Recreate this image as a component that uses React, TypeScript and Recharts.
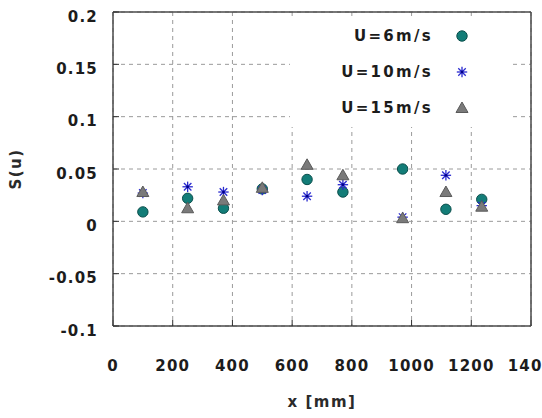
import { ScatterChart, Scatter, XAxis, YAxis, CartesianGrid, Label } from 'recharts';

// x positions of the measuring stations [mm]
const stations = [100, 250, 370, 500, 650, 770, 970, 1115, 1235];
// skewness S(u) per free-stream velocity
const u6 = [0.009, 0.022, 0.0125, 0.031, 0.040, 0.028, 0.050, 0.0115, 0.021];
const u10 = [0.027, 0.033, 0.028, 0.030, 0.024, 0.035, 0.004, 0.044, 0.015];
const u15 = [0.028, 0.0125, 0.020, 0.032, 0.054, 0.044, 0.003, 0.028, 0.014];

const seriesNames = ['U=6m/s', 'U=10m/s', 'U=15m/s'];
const xTicks = [0, 200, 400, 600, 800, 1000, 1200, 1400];
const yTicks = [-0.1, -0.05, 0, 0.05, 0.1, 0.15, 0.2];

const toPoints = (vals: number[]) => stations.map((x, i) => ({ x, y: vals[i] }));
const data6 = toPoints(u6);
const data10 = toPoints(u10);
const data15 = toPoints(u15);

const FONT = '"DejaVu Sans", Verdana, sans-serif';
const tickStyle = { fontFamily: FONT, fontSize: 15, fontWeight: 'bold' as const, fill: '#1c1c1c', letterSpacing: 1.2 };

const Dot = ({ cx, cy }: any) => <circle cx={cx} cy={cy} r={5.2} fill="#137d78" stroke="#0b4f4c" strokeWidth={1} />;

const Star = ({ cx, cy }: any) => {
  const r = 5.2;
  const d = r * 0.72;
  return (
    <g stroke="#2a2acf" strokeWidth={1.3}>
      <line x1={cx - r} y1={cy} x2={cx + r} y2={cy} />
      <line x1={cx} y1={cy - r} x2={cx} y2={cy + r} />
      <line x1={cx - d} y1={cy - d} x2={cx + d} y2={cy + d} />
      <line x1={cx - d} y1={cy + d} x2={cx + d} y2={cy - d} />
      <circle cx={cx} cy={cy} r={1.4} fill="#00008b" stroke="none" />
    </g>
  );
};

const Tri = ({ cx, cy }: any) => (
  <polygon
    points={`${cx},${cy - 6} ${cx - 6},${cy + 4.5} ${cx + 6},${cy + 4.5}`}
    fill="#7a7a7a"
    stroke="#5a5a5a"
    strokeWidth={1}
  />
);

const shapes = [Dot, Star, Tri];

const XTick = ({ x, y, payload }: any) => (
  <text x={x} y={y + 11} textAnchor="middle" style={tickStyle}>
    {payload.value}
  </text>
);

const YTick = ({ x, y, payload }: any) => (
  <text x={x} y={y + 9.5} textAnchor="end" style={tickStyle}>
    {payload.value}
  </text>
);

const labelStyle = { fontFamily: FONT, fontSize: 15, fontWeight: 'bold' as const, fill: '#2a2a2a', letterSpacing: 1.5 };

const XLabel = () => (
  <text x={322} y={407} textAnchor="middle" style={labelStyle}>
    x [mm]
  </text>
);

const YLabel = () => (
  <text x={21} y={169} textAnchor="middle" transform="rotate(-90, 21, 169)" style={labelStyle}>
    S(u)
  </text>
);

function Legend() {
  const rows = [16, 52, 88];
  return (
    <div
      style={{ position: 'absolute', left: 290, top: 20, width: 222, height: 107, background: '#fff' }}
    >
      {seriesNames.map((name, i) => {
        const Shape = shapes[i];
        return (
          <div key={name}>
            <span
              style={{
                position: 'absolute',
                right: 222 - 143,
                top: rows[i] - 10,
                fontFamily: FONT,
                fontSize: 15,
                fontWeight: 'bold',
                color: '#1c1c1c',
                letterSpacing: 2.3,
                whiteSpace: 'nowrap',
                lineHeight: '20px',
              }}
            >
              {name}
            </span>
            <svg style={{ position: 'absolute', left: 164, top: rows[i] - 8 }} width={16} height={16}>
              <Shape cx={8} cy={8} />
            </svg>
          </div>
        );
      })}
    </div>
  );
}

export default function App() {
  return (
    <div style={{ position: 'absolute', left: 0, top: 0, width: 542, height: 418, background: '#fff' }}>
      <ScatterChart width={542} height={418} margin={{ top: 11, right: 10, bottom: 0, left: 0 }}>
        <CartesianGrid stroke="#9a9a9a" strokeDasharray="4 4" horizontalValues={yTicks} verticalValues={xTicks} />
        <XAxis
          type="number"
          dataKey="x"
          domain={[0, 1400]}
          ticks={xTicks}
          interval={0}
          height={92}
          tickSize={-6}
          tickMargin={40}
          tick={<XTick />}
          axisLine={{ stroke: '#4a4a4a', strokeWidth: 1.5 }}
          tickLine={{ stroke: '#303030' }}
        >
          <Label content={<XLabel />} />
        </XAxis>
        <XAxis
          xAxisId="top"
          orientation="top"
          type="number"
          domain={[0, 1400]}
          ticks={xTicks}
          interval={0}
          height={1}
          tickSize={-6}
          tick={false}
          axisLine={{ stroke: '#4a4a4a', strokeWidth: 1.5 }}
          tickLine={{ stroke: '#303030' }}
        />
        <YAxis
          type="number"
          dataKey="y"
          domain={[-0.1, 0.2]}
          ticks={yTicks}
          interval={0}
          width={113}
          tickSize={-6}
          tickMargin={21}
          tick={<YTick />}
          axisLine={{ stroke: '#4a4a4a', strokeWidth: 1.5 }}
          tickLine={{ stroke: '#303030' }}
        >
          <Label content={<YLabel />} />
        </YAxis>
        <YAxis
          yAxisId="right"
          orientation="right"
          type="number"
          domain={[-0.1, 0.2]}
          ticks={yTicks}
          interval={0}
          width={1}
          tickSize={-6}
          tick={false}
          axisLine={{ stroke: '#4a4a4a', strokeWidth: 1.5 }}
          tickLine={{ stroke: '#303030' }}
        />
        <Scatter name={seriesNames[0]} data={data6} shape={<Dot />} isAnimationActive={false} />
        <Scatter name={seriesNames[1]} data={data10} shape={<Star />} isAnimationActive={false} />
        <Scatter name={seriesNames[2]} data={data15} shape={<Tri />} isAnimationActive={false} />
      </ScatterChart>
      <Legend />
    </div>
  );
}
